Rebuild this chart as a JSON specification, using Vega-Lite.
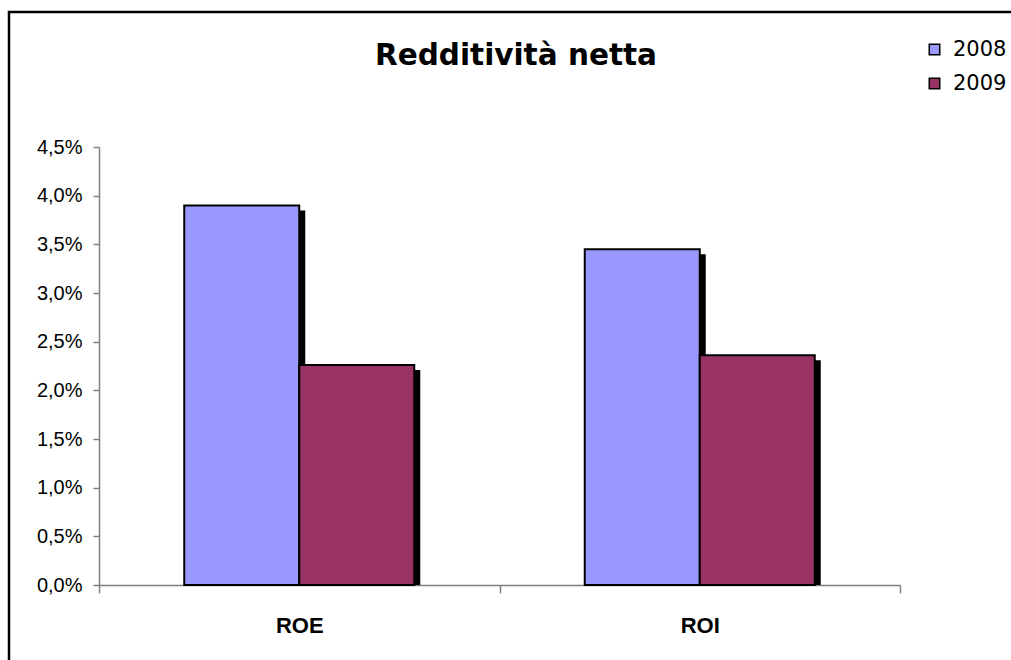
{
  "$schema": "https://vega.github.io/schema/vega-lite/v6.json",
  "width": 1005,
  "height": 651,
  "autosize": {"type": "none"},
  "padding": {"left": 9, "top": 12, "right": -3, "bottom": -3},
  "background": "white",
  "title": {
    "text": "Redditività netta",
    "font": "DejaVu Sans",
    "fontSize": 29.5,
    "fontWeight": "bold",
    "color": "black",
    "anchor": "start",
    "baseline": "alphabetic",
    "offset": -82,
    "dx": 366
  },
  "data": {
    "values": [
      {"indicatore": "ROE", "anno": "2008", "valore": 0.039},
      {"indicatore": "ROE", "anno": "2009", "valore": 0.0226},
      {"indicatore": "ROI", "anno": "2008", "valore": 0.0345},
      {"indicatore": "ROI", "anno": "2009", "valore": 0.0236}
    ]
  },
  "encoding": {
    "y": {
      "field": "valore",
      "type": "quantitative",
      "stack": null,
      "scale": {"domain": [0, 0.045], "range": [573, 135], "nice": false},
      "axis": {
        "title": null,
        "offset": -90,
        "values": [0, 0.005, 0.01, 0.015, 0.02, 0.025, 0.03, 0.035, 0.04, 0.045],
        "labelExpr": "replace(format(datum.value, '.1%'), '.', ',')",
        "grid": false,
        "domainColor": "#808080",
        "domainWidth": 1.5,
        "tickColor": "#808080",
        "tickWidth": 1.5,
        "tickSize": 6,
        "labelFont": "Liberation Sans",
        "labelFontSize": 20,
        "labelColor": "black",
        "labelPadding": 11
      }
    }
  },
  "layer": [
    {
      "mark": {"type": "bar", "color": "black", "yOffset": 5, "y2Offset": 0},
      "encoding": {
        "x": {
          "field": "indicatore",
          "type": "nominal",
          "scale": {"range": [96, 897], "paddingInner": 0, "paddingOuter": 0},
          "axis": null
        },
        "xOffset": {"field": "anno", "type": "nominal", "scale": {"paddingInner": 0, "paddingOuter": 0.7413}},
        "y2": {"datum": 0}
      }
    },
    {
      "mark": {"type": "bar", "stroke": "black", "strokeWidth": 2},
      "encoding": {
        "x": {
          "field": "indicatore",
          "type": "nominal",
          "scale": {"range": [90, 891], "paddingInner": 0, "paddingOuter": 0},
          "axis": {
            "title": null,
            "orient": "bottom",
            "offset": -78,
            "domainColor": "#808080",
            "domainWidth": 1.5,
            "tickColor": "#808080",
            "tickWidth": 1.5,
            "tickSize": 8,
            "tickBand": "extent",
            "labelFont": "Liberation Sans",
            "labelFontSize": 22,
            "labelFontWeight": "bold",
            "labelColor": "black",
            "labelBaseline": "alphabetic",
            "labelPadding": 39,
            "labelAngle": 0
          }
        },
        "xOffset": {"field": "anno", "type": "nominal", "scale": {"paddingInner": 0, "paddingOuter": 0.7413}},
        "color": {
          "field": "anno",
          "type": "nominal",
          "scale": {"domain": ["2008", "2009"], "range": ["#9999FF", "#993366"]},
          "legend": {
            "title": null,
            "orient": "none",
            "legendX": 915,
            "legendY": 27,
            "symbolType": "square",
            "symbolSize": 110,
            "symbolStrokeColor": "black",
            "symbolStrokeWidth": 1.5,
            "labelFont": "DejaVu Sans",
            "labelFontSize": 21,
            "labelColor": "black",
            "labelOffset": 8,
            "rowPadding": 12,
            "padding": 0
          }
        }
      }
    }
  ],
  "resolve": {"scale": {"x": "independent", "xOffset": "independent"}},
  "config": {"view": {"stroke": "black", "strokeWidth": 2.5}}
}
